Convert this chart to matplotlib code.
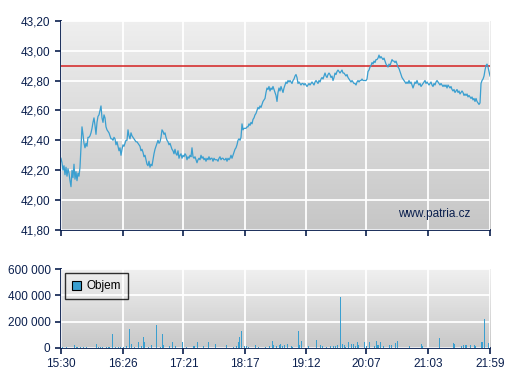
import numpy as np
import matplotlib
matplotlib.use("Agg")
import matplotlib.pyplot as plt
from matplotlib.ticker import FuncFormatter

# price readings, evenly spaced over the session 15:30 - 21:59
price = [
    42.28, 42.25, 42.20, 42.23, 42.17, 42.22, 42.16, 42.21, 42.18, 42.13,
    42.09, 42.20, 42.15, 42.24, 42.14, 42.19, 42.13, 42.18, 42.16, 42.22,
    42.35, 42.49, 42.44, 42.38, 42.35, 42.38, 42.36, 42.42, 42.42, 42.43,
    42.45, 42.48, 42.52, 42.55, 42.50, 42.44, 42.52, 42.56, 42.57, 42.60,
    42.63, 42.55, 42.52, 42.57, 42.55, 42.49, 42.47, 42.46, 42.45, 42.43,
    42.41, 42.41, 42.40, 42.42, 42.41, 42.37, 42.39, 42.36, 42.33, 42.35,
    42.30, 42.34, 42.37, 42.36, 42.38, 42.40, 42.40, 42.47, 42.43, 42.41,
    42.45, 42.43, 42.42, 42.41, 42.40, 42.39, 42.39, 42.38, 42.37, 42.36,
    42.33, 42.34, 42.32, 42.29, 42.30, 42.27, 42.24, 42.23, 42.26, 42.22,
    42.24, 42.23, 42.27, 42.31, 42.34, 42.36, 42.38, 42.40, 42.38, 42.39,
    42.42, 42.47, 42.46, 42.44, 42.45, 42.42, 42.40, 42.39, 42.37, 42.38,
    42.36, 42.34, 42.33, 42.31, 42.34, 42.31, 42.30, 42.33, 42.28, 42.30,
    42.31, 42.28, 42.30, 42.29, 42.31, 42.30, 42.27, 42.29, 42.28, 42.30,
    42.29, 42.35, 42.29, 42.28, 42.29, 42.27, 42.25, 42.27, 42.28, 42.27,
    42.30, 42.28, 42.29, 42.27, 42.28, 42.26, 42.28, 42.27, 42.29, 42.27,
    42.28, 42.28, 42.26, 42.28, 42.27, 42.27, 42.27, 42.26, 42.28, 42.29,
    42.27, 42.28, 42.28, 42.27, 42.27, 42.28, 42.26, 42.28, 42.27, 42.28,
    42.30, 42.28, 42.30, 42.32, 42.34, 42.35, 42.37, 42.40, 42.41, 42.40,
    42.42, 42.51, 42.47, 42.48, 42.48, 42.48, 42.49, 42.49, 42.51, 42.50,
    42.52, 42.51, 42.54, 42.55, 42.57, 42.58, 42.60, 42.62, 42.61, 42.63,
    42.62, 42.64, 42.66, 42.67, 42.68, 42.72, 42.75, 42.74, 42.76, 42.73,
    42.75, 42.74, 42.76, 42.74, 42.72, 42.70, 42.66, 42.72, 42.75, 42.73,
    42.76, 42.74, 42.72, 42.75, 42.77, 42.79, 42.78, 42.80, 42.79, 42.80,
    42.79, 42.78, 42.80, 42.81, 42.83, 42.84, 42.82, 42.78, 42.79, 42.78,
    42.77, 42.78, 42.78, 42.77, 42.78, 42.77, 42.76, 42.77, 42.78, 42.77,
    42.78, 42.79, 42.78, 42.77, 42.79, 42.80, 42.79, 42.78, 42.80, 42.79,
    42.81, 42.82, 42.81, 42.83, 42.85, 42.83, 42.82, 42.84, 42.85, 42.84,
    42.82, 42.83, 42.80, 42.82, 42.85, 42.84, 42.86, 42.87, 42.86, 42.85,
    42.86, 42.87, 42.85, 42.85, 42.84, 42.83, 42.84, 42.82, 42.81, 42.80,
    42.79, 42.80, 42.79, 42.78, 42.78, 42.77, 42.79, 42.80, 42.79, 42.80,
    42.80, 42.81, 42.80, 42.80, 42.80, 42.80, 42.81, 42.86, 42.87, 42.89,
    42.90, 42.92, 42.91, 42.93, 42.92, 42.94, 42.94, 42.95, 42.97, 42.95,
    42.96, 42.95, 42.94, 42.95, 42.93, 42.91, 42.90, 42.89, 42.91, 42.90,
    42.92, 42.94, 42.93, 42.93, 42.92, 42.93, 42.91, 42.89, 42.88, 42.86,
    42.84, 42.82, 42.81, 42.80, 42.79, 42.78, 42.79, 42.78, 42.80, 42.78,
    42.79, 42.77, 42.75, 42.77, 42.79, 42.78, 42.80, 42.78, 42.77, 42.78,
    42.76, 42.77, 42.78, 42.79, 42.80, 42.78, 42.79, 42.78, 42.77, 42.78,
    42.79, 42.77, 42.76, 42.78, 42.77, 42.79, 42.80, 42.79, 42.78, 42.77,
    42.78, 42.77, 42.76, 42.77, 42.76, 42.77, 42.75, 42.77, 42.76, 42.75,
    42.76, 42.74, 42.73, 42.74, 42.72, 42.73, 42.74, 42.72, 42.73, 42.71,
    42.72, 42.73, 42.72, 42.70, 42.71, 42.70, 42.71, 42.69, 42.70, 42.69,
    42.68, 42.69, 42.67, 42.68, 42.66, 42.68, 42.66, 42.65, 42.64, 42.65,
    42.78, 42.80, 42.81, 42.83, 42.87, 42.90, 42.91, 42.89, 42.86, 42.83,
]
prev_close = 42.90

# volume: minute offset from 15:30, shares
vol_min = [1, 5, 12, 14, 15, 18, 20, 23, 32, 34, 36, 38, 41, 43, 44, 47, 49, 52,
           54, 57, 59, 62, 64, 67, 70, 73, 75, 76, 79, 82, 87, 90, 92, 93, 98,
           101, 104, 107, 110, 114, 120, 121, 124, 129, 134, 140, 150, 156, 159,
           161, 162, 164, 166, 168, 170, 176, 179, 185, 189, 192, 193, 195, 198,
           199, 201, 203, 205, 209, 210, 215, 216, 218, 224, 232, 235, 237, 241,
           244, 247, 249, 251, 253, 255, 257, 258, 261, 263, 265, 267, 269, 270,
           275, 277, 280, 284, 286, 287, 288, 290, 292, 298, 300, 303, 305, 316,
           327, 328, 343, 350, 356, 357, 363, 365, 367, 368, 371, 375, 376, 381,
           382, 384, 388]
vol_val = [5, 5, 18, 5, 3, 4, 4, 3, 28, 8, 5, 6, 5, 6, 8, 105, 5, 8, 5, 6, 15,
           143, 30, 8, 45, 10, 82, 45, 5, 20, 173, 8, 105, 20, 10, 45, 10, 8, 45,
           8, 10, 10, 43, 10, 43, 28, 20, 8, 15, 40, 84, 128, 12, 15, 8, 20, 5, 8,
           10, 51, 18, 15, 22, 28, 15, 22, 30, 15, 8, 128, 20, 54, 10, 59, 20, 10,
           5, 12, 15, 10, 22, 388, 30, 20, 8, 43, 28, 30, 10, 43, 20, 43, 10, 43,
           15, 51, 20, 20, 43, 10, 20, 18, 36, 51, 15, 28, 15, 74, 15, 36, 28, 15,
           20, 20, 18, 20, 20, 10, 43, 43, 219, 36]
vol_val = [v * 1000 for v in vol_val]

tick_min = [0, 56, 111, 167, 222, 277, 333, 389]
tick_lbl = ["15:30", "16:26", "17:21", "18:17", "19:12", "20:07", "21:03", "21:59"]

navy = "#0a1f4e"
blue = "#3a9fd0"
plt.rcParams['font.family'] = ['Liberation Sans', 'DejaVu Sans']

fig = plt.figure(figsize=(5.07, 3.80), dpi=100)
ax1 = fig.add_axes([0.1203, 0.3947, 0.8462, 0.5508])
ax2 = fig.add_axes([0.1203, 0.0850, 0.8462, 0.2063])


def style(ax, top, bottom):
    grad = np.linspace(0, 1, 256).reshape(-1, 1)
    ax.imshow(grad, extent=[0, 1, 0, 1], transform=ax.transAxes, aspect='auto',
              cmap=matplotlib.colors.LinearSegmentedColormap.from_list("g", [top, bottom]),
              zorder=0)
    for s in ["top", "right"]:
        ax.spines[s].set_visible(False)
    for s in ["left", "bottom"]:
        ax.spines[s].set_color(navy)
        ax.spines[s].set_linewidth(1.3)
    ax.tick_params(colors=navy, labelcolor=navy, labelsize=8.5, length=4, width=1.2)
    ax.grid(True, color="white", linewidth=1.3, zorder=1)
    ax.set_axisbelow(False)
    ax.set_xlim(0, 389)
    ax.set_xticks(tick_min)


t = np.linspace(0, 389, len(price))
style(ax1, "#efefef", "#c6c6c6")
ax1.set_ylim(41.8, 43.2)
ax1.set_yticks(np.arange(41.8, 43.21, 0.2))
ax1.yaxis.set_major_formatter(FuncFormatter(lambda v, p: ("%.2f" % v).replace(".", ",")))
ax1.set_xticklabels([])
ax1.axhline(prev_close, color="#d42020", linewidth=1.1, zorder=3)
ax1.plot(t, price, color=blue, linewidth=0.9, zorder=4)
ax1.text(0.955, 0.075, "www.patria.cz", transform=ax1.transAxes, ha="right",
         va="center", color=navy, fontsize=8.5, zorder=5)

style(ax2, "#f0f0f0", "#c8c8c8")
ax2.set_ylim(0, 600000)
ax2.set_yticks([0, 200000, 400000, 600000])
ax2.yaxis.set_major_formatter(FuncFormatter(lambda v, p: "{:,.0f}".format(v).replace(",", " ")))
ax2.set_xticklabels(tick_lbl)
ax2.bar(vol_min, vol_val, width=0.9, color=blue, linewidth=0, zorder=4, label="Objem")
leg = ax2.legend(loc="upper left", bbox_to_anchor=(0.009, 0.95), borderaxespad=0,
                 fontsize=8.5, frameon=True, fancybox=False, handlelength=0.8,
                 handleheight=0.8, borderpad=0.6, handletextpad=0.4)
leg.get_frame().set_edgecolor("black")
leg.get_frame().set_facecolor("none")
leg.get_frame().set_linewidth(1.0)
for h in leg.legend_handles:
    h.set_edgecolor("black")
    h.set_linewidth(0.8)
for txt in leg.get_texts():
    txt.set_color("black")

fig.savefig("out.png", dpi=100)
